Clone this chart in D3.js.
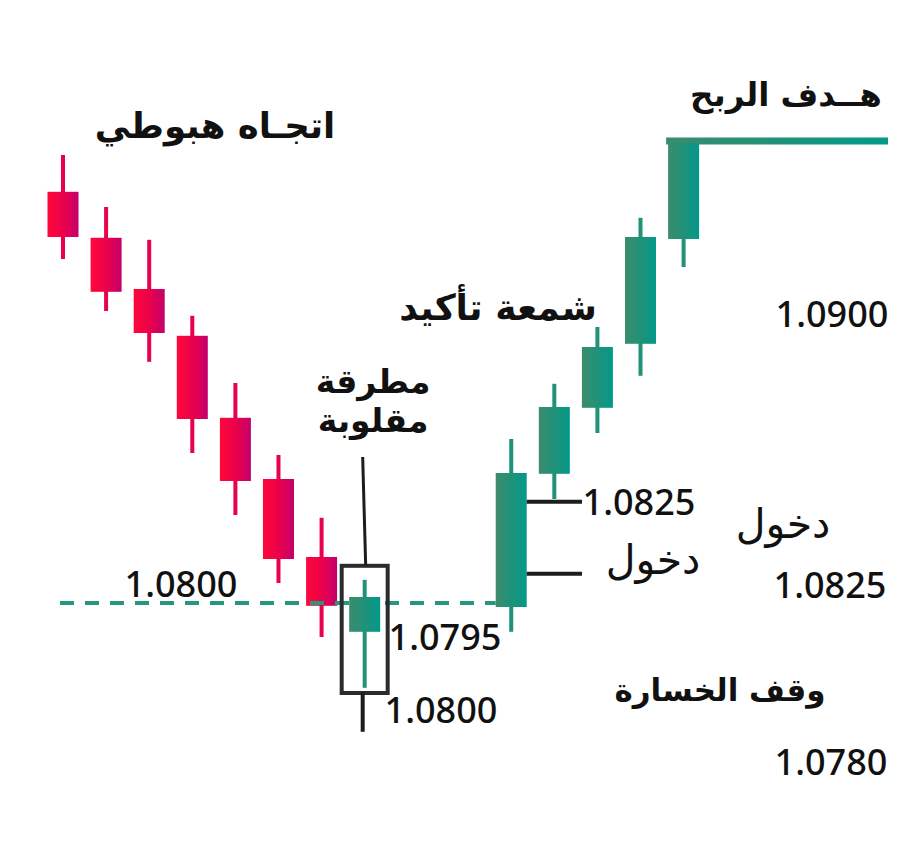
<!DOCTYPE html>
<html><head><meta charset="utf-8">
<script src="https://cdn.jsdelivr.net/npm/d3@7"></script>
<style>body{margin:0;background:#fff}svg{display:block}</style>
</head><body>
<div id="chart"></div>
<script>
// ---- data ----
const bearTimes  = [0,1,2,3,4,5,6];
const bearOpen   = [1.09028,1.08913,1.08785,1.08668,1.08463,1.08310,1.08115];
const bearHigh   = [1.09120,1.08990,1.08908,1.08718,1.08550,1.08370,1.08213];
const bearLow    = [1.08860,1.08730,1.08603,1.08375,1.08220,1.08050,1.07915];
const bearClose  = [1.08915,1.08778,1.08675,1.08460,1.08305,1.08110,1.07993];

const hammer = {t:7, open:1.07928, high:1.08058, low:1.07788, close:1.08015};

const bullTimes  = [10.4,11.4,12.4,13.4,14.4];
const bullOpen   = [1.07990,1.08323,1.08488,1.08648,1.08910];
const bullHigh   = [1.08410,1.08548,1.08690,1.08963,1.09150];
const bullLow    = [1.07928,1.08260,1.08425,1.08568,1.08840];
const bullClose  = [1.08325,1.08490,1.08640,1.08915,1.09150];

const supportLevel = 1.0800;
const targetLevel  = 1.09155;
const entryLevels  = [1.08253, 1.08073];
const boxRange     = [1.07775, 1.08093];
const pointerRange = [1.07678, 1.08365];

const priceLabels = ["1.0800","1.0795","1.0800","1.0825","1.0825","1.0900","1.0780"];
const textLabels  = ["اتجـاه هبوطي","هــدف الربح","شمعة تأكيد","مطرقة","مقلوبة","دخول","دخول","وقف الخسارة"];

// ---- setup ----
const W=924,H=850;
const svg=d3.select("#chart").append("svg").attr("width",W).attr("height",H);
const x=d3.scaleLinear().domain([0,14.4]).range([63,683.6]);
const y=d3.scaleLinear().domain([1.0750,1.0925]).range([803,103]);
const bodyW=31, wickW=4;

const defs=svg.append("defs");
function grad(id,c1,c2,c3){
  const g=defs.append("linearGradient").attr("id",id).attr("x1","0").attr("x2","1").attr("y1","0").attr("y2","0");
  g.append("stop").attr("offset","0").attr("stop-color",c1);
  g.append("stop").attr("offset","0.5").attr("stop-color",c2);
  g.append("stop").attr("offset","1").attr("stop-color",c3);
}
grad("red","#ff073a","#ec0249","#c3006c");
grad("green","#3d8b6c","#1f9279","#02998b");
grad("greenLine","#3a8c6e","#1f9279","#03998b");

const bears=bearTimes.map((t,i)=>({t,open:bearOpen[i],high:bearHigh[i],low:bearLow[i],close:bearClose[i]}));
const bulls=bullTimes.map((t,i)=>({t,open:bullOpen[i],high:bullHigh[i],low:bullLow[i],close:bullClose[i]}));

function drawCandles(data,fill,wickColor){
  const g=svg.append("g");
  g.selectAll("rect.b").data(data).join("rect")
    .attr("x",d=>x(d.t)-bodyW/2)
    .attr("y",d=>y(Math.max(d.open,d.close)))
    .attr("width",bodyW)
    .attr("height",d=>Math.abs(y(d.open)-y(d.close)))
    .attr("fill",fill);
  g.selectAll("rect.w").data(data).join("rect")
    .attr("x",d=>x(d.t)-wickW/2)
    .attr("y",d=>y(d.high))
    .attr("width",wickW)
    .attr("height",d=>y(d.low)-y(d.high))
    .attr("fill",wickColor);
}

// target line (as rect so the gradient works)
const tx0=x(14.4)-bodyW/2-2;
svg.append("rect")
  .attr("x",tx0).attr("width",888-tx0)
  .attr("y",y(targetLevel)-3.5).attr("height",7)
  .attr("fill","url(#greenLine)");

drawCandles(bears,"url(#red)","#e8024b");
drawCandles(bulls,"url(#green)","#1f9279");

// dashed support line (on top of the last red candle)
svg.append("line")
  .attr("x1",60).attr("x2",x(10.4)-bodyW/2)
  .attr("y1",y(supportLevel)).attr("y2",y(supportLevel))
  .attr("stroke","#25967f").attr("stroke-width",4)
  .attr("stroke-dasharray","14,11");

// hammer candle on top of dashes
drawCandles([hammer],"url(#green)","#1f9279");
svg.append("rect")
  .attr("x",x(7)-23).attr("y",y(boxRange[1]))
  .attr("width",46).attr("height",y(boxRange[0])-y(boxRange[1]))
  .attr("fill","none").attr("stroke","#2b2b2b").attr("stroke-width",4);

// pointer lines
svg.append("line").attr("x1",x(7)-2).attr("x2",x(7)+1)
  .attr("y1",y(pointerRange[1])).attr("y2",y(boxRange[1]))
  .attr("stroke","#1d1d1d").attr("stroke-width",3);
svg.append("line").attr("x1",x(7)-2).attr("x2",x(7)-2)
  .attr("y1",y(boxRange[0])).attr("y2",y(pointerRange[0]))
  .attr("stroke","#1d1d1d").attr("stroke-width",4);

// entry lines
svg.selectAll("line.entry").data(entryLevels).join("line")
  .attr("x1",x(10.4)+bodyW/2).attr("x2",582)
  .attr("y1",d=>y(d)).attr("y2",d=>y(d))
  .attr("stroke","#1d1d1d").attr("stroke-width",4);

// ---- texts ----
const ar="'DejaVu Sans', sans-serif";
const num="'Noto Sans','Open Sans',sans-serif";
function txt(s,xx,yy,size,weight,fam){
  svg.append("text").attr("x",xx).attr("y",yy).attr("font-size",size)
    .attr("font-weight",weight).attr("font-family",fam)
    .attr("text-anchor","middle").attr("fill","#111").attr("direction","rtl")
    .text(s);
}
txt(textLabels[0],215,138,35.5,"bold",ar);
txt(textLabels[1],786,106,32.5,"bold",ar);
txt(textLabels[2],498,320,36,"bold",ar);
txt(textLabels[3],373,393,33,"bold",ar);
txt(textLabels[4],373,432,33,"bold",ar);
txt(textLabels[5],783,538,41,"normal",ar);
txt(textLabels[6],653,574,41,"normal",ar);
txt(textLabels[7],720,701,31,"bold",ar);

function ntxt(s,xx,yy){
  svg.append("text").attr("x",xx).attr("y",yy).attr("font-size",36)
    .attr("font-weight",500).attr("font-family",num)
    .attr("text-anchor","middle").attr("fill","#111").text(s);
}
ntxt(priceLabels[0],181,597);
ntxt(priceLabels[1],445,650);
ntxt(priceLabels[2],441,723);
ntxt(priceLabels[3],639,515);
ntxt(priceLabels[4],830,598);
ntxt(priceLabels[5],832,327);
ntxt(priceLabels[6],831,775);
</script>
</body></html>
